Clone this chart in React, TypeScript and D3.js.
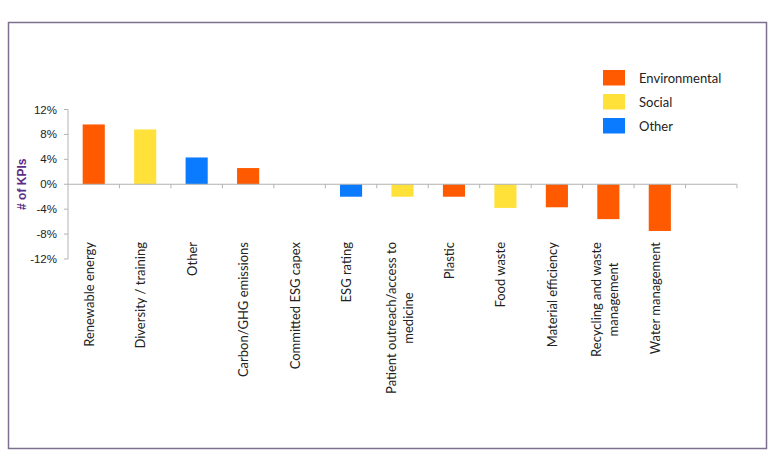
import * as d3 from 'd3';

// KPI categories, values (% change) and group
const categories = [
  'Renewable energy',
  'Diversity / training',
  'Other',
  'Carbon/GHG emissions',
  'Committed ESG capex',
  'ESG rating',
  'Patient outreach/access to|medicine',
  'Plastic',
  'Food waste',
  'Material efficiency',
  'Recycling and waste|management',
  'Water management',
  '',
];
const values = [9.6, 8.8, 4.3, 2.6, 0, -2.0, -2.0, -2.0, -3.8, -3.7, -5.6, -7.5, 0];
const groups = ['env', 'soc', 'oth', 'env', 'env', 'oth', 'soc', 'env', 'soc', 'env', 'env', 'env', 'env'];
const yTicks = [12, 8, 4, 0, -4, -8, -12];
const legendItems = [
  { key: 'env', label: 'Environmental' },
  { key: 'soc', label: 'Social' },
  { key: 'oth', label: 'Other' },
];

const colors: Record<string, string> = { env: '#ff5a00', soc: '#ffe13a', oth: '#0a7bff' };

const LABEL_FONT = '13px Lato, sans-serif';
let ctx: CanvasRenderingContext2D | null = null;
function textWidth(s: string) {
  if (!ctx) ctx = document.createElement('canvas').getContext('2d');
  if (!ctx) return s.length * 6.4;
  ctx.font = LABEL_FONT;
  return ctx.measureText(s).width;
}

export default function App() {
  const W = 768;
  const H = 471;
  const left = 68;
  const right = 737;
  const labelTop = 242;

  const keys = categories.map((c, i) => i + c);
  const x = d3.scaleBand<string>().domain(keys).range([left, right]).paddingInner(0.57).paddingOuter(0.285);
  const y = d3.scaleLinear().domain([-12, 12]).range([259, 109.5]);
  const step = x.step();

  return (
    <svg width={W} height={H} style={{ position: 'absolute', left: 0, top: 0, background: '#fff' }}>
      <rect x={8.5} y={22.5} width={758} height={426} fill="none" stroke="#7d6f8f" strokeWidth={1.5} />

      {/* y axis */}
      <line x1={left} x2={left} y1={y(12)} y2={y(-12)} stroke="#b3b3b3" />
      {yTicks.map((t) => (
        <g key={t}>
          <line x1={left - 4} x2={left} y1={y(t)} y2={y(t)} stroke="#b3b3b3" />
          <text x={57} y={y(t)} dy="0.35em" textAnchor="end" fontFamily="Liberation Sans, Arial" fontSize={11.5} fill="#222">
            {t}%
          </text>
        </g>
      ))}
      <text
        transform={`translate(26,${y(0)}) rotate(-90)`}
        textAnchor="middle"
        fontFamily="Liberation Sans, Arial"
        fontWeight="bold"
        fontSize={12}
        fill="#5c2d86"
      >
        # of KPIs
      </text>

      {/* bars */}
      {values.map((v, i) =>
        v === 0 ? null : (
          <rect
            key={i}
            x={x(keys[i])}
            width={x.bandwidth()}
            y={y(Math.max(0, v))}
            height={Math.abs(y(v) - y(0))}
            fill={colors[groups[i]]}
          />
        )
      )}

      {/* zero line with category ticks */}
      <line x1={left} x2={right} y1={y(0)} y2={y(0)} stroke="#b3b3b3" />
      {keys.map((k, i) => (
        <line key={k} x1={left + step * (i + 1)} x2={left + step * (i + 1)} y1={y(0)} y2={y(0) + 4} stroke="#b3b3b3" />
      ))}

      {/* category labels */}
      {categories.map((c, i) => {
        const lines = c.split('|');
        const cx = left + step * (i + 0.5);
        if (lines.length === 1) {
          return (
            <text
              key={i}
              transform={`translate(${cx},${labelTop}) rotate(-90)`}
              textAnchor="end"
              fontFamily="Lato, sans-serif"
              fontSize={13}
              fill="#222"
            >
              {c}
            </text>
          );
        }
        const maxW = Math.max(...lines.map(textWidth));
        const mid = labelTop + maxW / 2;
        return lines.map((ln, j) => (
          <text
            key={i + '-' + j}
            transform={`translate(${cx + 1.5 + (j - (lines.length - 1) / 2) * 17},${mid}) rotate(-90)`}
            textAnchor="middle"
            fontFamily="Lato, sans-serif"
            fontSize={13}
            fill="#222"
          >
            {ln}
          </text>
        ));
      })}

      {/* legend */}
      {legendItems.map((it, i) => (
        <g key={it.key} transform={`translate(603,${70 + i * 24})`}>
          <rect width={22} height={15.5} fill={colors[it.key]} />
          <text x={36} y={8} dy="0.35em" fontFamily="Lato, sans-serif" fontSize={13} fill="#222">
            {it.label}
          </text>
        </g>
      ))}
    </svg>
  );
}
